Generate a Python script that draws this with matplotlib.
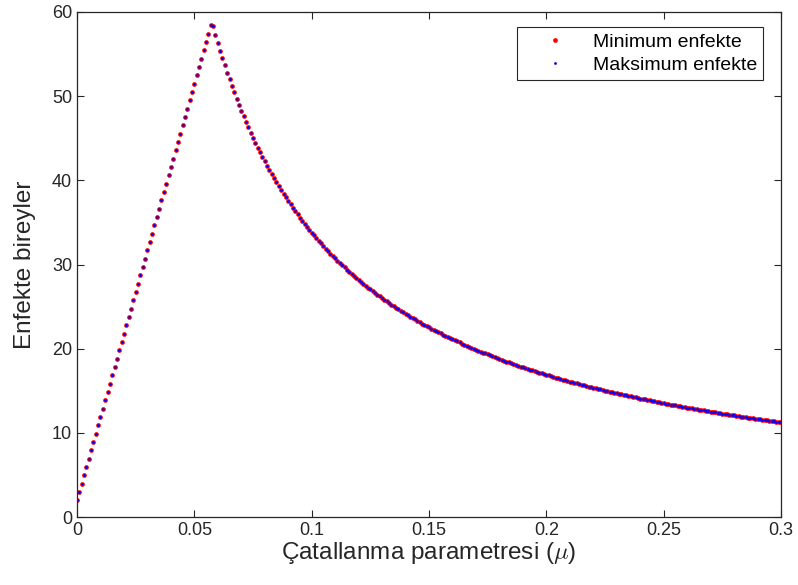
import numpy as np
import matplotlib
matplotlib.use("Agg")
import matplotlib.pyplot as plt

plt.rcParams['font.family'] = ['Liberation Sans', 'DejaVu Sans']
plt.rcParams['mathtext.fontset'] = 'cm'

# bifurcation parameter values (mu), step 0.001 from 0 to 0.3
mu_start, mu_step, mu_count = 0.0, 0.001, 301
mu = np.round(mu_start + mu_step * np.arange(mu_count), 3)

# infected values (min and max coincide)
infected_min = [
    2.00, 2.99, 3.98, 4.97, 5.96, 6.95, 7.94, 8.93, 9.92, 10.91,
    11.90, 12.89, 13.88, 14.87, 15.86, 16.85, 17.84, 18.83, 19.82, 20.81,
    21.80, 22.79, 23.78, 24.77, 25.76, 26.75, 27.74, 28.73, 29.72, 30.71,
    31.70, 32.69, 33.68, 34.67, 35.66, 36.65, 37.64, 38.63, 39.62, 40.61,
    41.60, 42.59, 43.58, 44.57, 45.56, 46.55, 47.54, 48.53, 49.52, 50.51,
    51.50, 52.49, 53.48, 54.47, 55.46, 56.45, 57.44, 58.43, 58.28, 57.29,
    56.33, 55.41, 54.52, 53.65, 52.81, 52.00, 51.21, 50.45, 49.71, 48.99,
    48.29, 47.61, 46.94, 46.30, 45.68, 45.07, 44.47, 43.90, 43.33, 42.78,
    42.25, 41.73, 41.22, 40.72, 40.24, 39.76, 39.30, 38.85, 38.41, 37.98,
    37.56, 37.14, 36.74, 36.34, 35.96, 35.58, 35.21, 34.85, 34.49, 34.14,
    33.80, 33.47, 33.14, 32.82, 32.50, 32.19, 31.89, 31.59, 31.30, 31.01,
    30.73, 30.45, 30.18, 29.91, 29.65, 29.39, 29.14, 28.89, 28.64, 28.40,
    28.17, 27.93, 27.70, 27.48, 27.26, 27.04, 26.83, 26.61, 26.41, 26.20,
    26.00, 25.80, 25.61, 25.41, 25.22, 25.04, 24.85, 24.67, 24.49, 24.32,
    24.14, 23.97, 23.80, 23.64, 23.47, 23.31, 23.15, 22.99, 22.84, 22.68,
    22.53, 22.38, 22.24, 22.09, 21.95, 21.81, 21.67, 21.53, 21.39, 21.26,
    21.13, 20.99, 20.86, 20.74, 20.61, 20.48, 20.36, 20.24, 20.12, 20.00,
    19.88, 19.77, 19.65, 19.54, 19.43, 19.31, 19.20, 19.10, 18.99, 18.88,
    18.78, 18.67, 18.57, 18.47, 18.37, 18.27, 18.17, 18.07, 17.98, 17.88,
    17.79, 17.70, 17.60, 17.51, 17.42, 17.33, 17.24, 17.16, 17.07, 16.98,
    16.90, 16.82, 16.73, 16.65, 16.57, 16.49, 16.41, 16.33, 16.25, 16.17,
    16.10, 16.02, 15.94, 15.87, 15.79, 15.72, 15.65, 15.58, 15.50, 15.43,
    15.36, 15.29, 15.23, 15.16, 15.09, 15.02, 14.96, 14.89, 14.82, 14.76,
    14.70, 14.63, 14.57, 14.51, 14.44, 14.38, 14.32, 14.26, 14.20, 14.14,
    14.08, 14.02, 13.97, 13.91, 13.85, 13.80, 13.74, 13.68, 13.63, 13.57,
    13.52, 13.47, 13.41, 13.36, 13.31, 13.25, 13.20, 13.15, 13.10, 13.05,
    13.00, 12.95, 12.90, 12.85, 12.80, 12.75, 12.71, 12.66, 12.61, 12.57,
    12.52, 12.47, 12.43, 12.38, 12.34, 12.29, 12.25, 12.20, 12.16, 12.11,
    12.07, 12.03, 11.99, 11.94, 11.90, 11.86, 11.82, 11.78, 11.74, 11.70,
    11.66, 11.62, 11.58, 11.54, 11.50, 11.46, 11.42, 11.38, 11.34, 11.30,
    11.27,
]
infected_max = list(infected_min)

fig = plt.figure(figsize=(7.98, 5.85), dpi=100)
ax = fig.add_axes([0.0965, 0.1162, 0.8822, 0.8633])

ax.plot(mu, infected_min, 'o', color='red', markersize=3.4, markeredgewidth=0,
        label='Minimum enfekte')
ax.plot(mu, infected_max, 'o', color='blue', markersize=2.0, markeredgewidth=0,
        label='Maksimum enfekte')

ax.set_xlim(0, 0.3)
ax.set_ylim(0, 60)
ax.set_xticks([0, 0.05, 0.1, 0.15, 0.2, 0.25, 0.3])
ax.set_xticklabels(['0', '0.05', '0.1', '0.15', '0.2', '0.25', '0.3'])
ax.set_yticks(range(0, 61, 10))

ax.tick_params(direction='in', top=True, right=True, labelsize=13,
               colors='#262626', length=5, width=0.8)
for s in ax.spines.values():
    s.set_color('#262626')
    s.set_linewidth(0.9)

ax.set_xlabel(r'Çatallanma parametresi ($\mu$)', fontsize=17.5, color='#262626')
ax.set_ylabel('Enfekte bireyler', fontsize=17.5, color='#262626')
ax.xaxis.set_label_coords(0.5, -0.045)
ax.yaxis.set_label_coords(-0.058, 0.5)

leg = ax.legend(loc='upper right', fontsize=14, fancybox=False, framealpha=1,
                edgecolor='#262626', borderpad=0.3, labelspacing=0.3,
                handlelength=3.3, handletextpad=0.3, borderaxespad=0,
                bbox_to_anchor=(0.9744, 0.970))
leg.get_frame().set_linewidth(0.8)

fig.savefig('out.png', dpi=100)
